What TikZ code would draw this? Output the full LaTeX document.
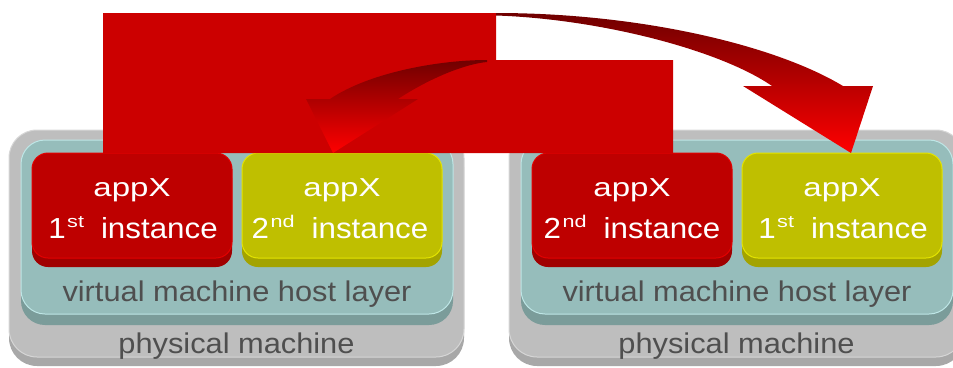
\documentclass[tikz,border=0pt]{standalone}
\usepackage{fontspec}
\newfontfamily\appfont[FakeStretch=1.27]{Liberation Sans}
\newfontfamily\layfont[FakeStretch=1.08]{Liberation Sans}
\definecolor{blockred}{HTML}{CC0000}
\definecolor{arrdark}{HTML}{700000}
\definecolor{arrbright}{HTML}{FF0000}
\definecolor{greyface}{HTML}{BEBEBE}
\definecolor{greyside}{HTML}{A8A8A8}
\definecolor{greyhi}{HTML}{D6D6D6}
\definecolor{tealface}{HTML}{96BDBB}
\definecolor{tealside}{HTML}{7B9C9A}
\definecolor{tealhi}{HTML}{BEE6E6}
\definecolor{redface}{HTML}{BE0000}
\definecolor{redside}{HTML}{A00000}
\definecolor{redhi}{HTML}{E40000}
\definecolor{yelface}{HTML}{BFBF00}
\definecolor{yelside}{HTML}{A3A300}
\definecolor{yelhi}{HTML}{E4E400}
\definecolor{txtgrey}{HTML}{4F4F4F}
% ordinal line: digit, suffix
\newcommand\ordline[2]{#1\hspace{1.5pt}\raisebox{11pt}{\appfont\fontsize{17}{17}\selectfont #2}\hspace{17pt}instance}
% name, cx, cy, width, height, radius, colour prefix, depth
\newcommand\slab[8]{%
  \node[slabshape, minimum width=#4, minimum height=#5, rounded corners=#6, fill=#7side] (#1s) at (#2,{#3+#8}) {};
  \node[slabshape, minimum width=#4, minimum height=#5, rounded corners=#6, fill=#7face, draw=#7hi] (#1) at (#2,#3) {};
}
\begin{document}
\begin{tikzpicture}[x=1pt,y=-1pt,
  slabshape/.style={rectangle, inner sep=0pt, line width=1pt},
  apptext/.style={text=white, font=\appfont\fontsize{26}{30}\selectfont, inner sep=0pt, anchor=base},
  ordtext/.style={text=white, font=\layfont\fontsize{29}{32}\selectfont, inner sep=0pt, anchor=base},
  laytext/.style={text=txtgrey, font=\layfont\fontsize{28.5}{32}\selectfont, inner sep=0pt, anchor=base},
  bigarrow/.style={top color=arrdark, bottom color=arrbright}]
\useasboundingbox (0,0) rectangle (953,367);
% left machine
\slab{pm1}{236.5}{243.5}{455pt}{227pt}{28pt}{grey}{9}
\slab{vm1}{237}{227}{432pt}{174pt}{24pt}{teal}{11}
\slab{a1}{132}{205.5}{200pt}{105pt}{16pt}{red}{9}
\slab{b1}{342}{205.5}{200pt}{105pt}{16pt}{yel}{9}
% right machine
\slab{pm2}{736.5}{243.5}{455pt}{227pt}{28pt}{grey}{9}
\slab{vm2}{737}{227}{432pt}{174pt}{24pt}{teal}{11}
\slab{a2}{632}{205.5}{200pt}{105pt}{16pt}{red}{9}
\slab{b2}{842}{205.5}{200pt}{105pt}{16pt}{yel}{9}
% texts
\node[apptext] (a1t) at (132,196) {appX};
\node[ordtext] (a1u) at (133,238.3) {\ordline{1}{st}};
\node[apptext] (b1t) at (342,196) {appX};
\node[ordtext] (b1u) at (340,238.3) {\ordline{2}{nd}};
\node[apptext] (a2t) at (632,196) {appX};
\node[ordtext] (a2u) at (632,238.3) {\ordline{2}{nd}};
\node[apptext] (b2t) at (842,196) {appX};
\node[ordtext] (b2u) at (843,238.3) {\ordline{1}{st}};
\node[laytext] (vm1t) at (237,301) {virtual machine host layer};
\node[laytext] (vm2t) at (737,301) {virtual machine host layer};
\node[laytext] (pm1t) at (236.5,353) {physical machine};
\node[laytext] (pm2t) at (736.5,353) {physical machine};
% red block
\fill[blockred] (103,13) -- (496,13) -- (496,60) -- (673,60) -- (673,153) -- (103,153) -- cycle;
% arrow to the right machine
\shade[bigarrow] (496,13) .. controls (640,13) and (775,45) .. (843,86)
  -- (873,86) -- (851,153) -- (743,86) -- (772,86)
  .. controls (720,50) and (600,19) .. (496,15.5) -- cycle;
% arrow back to the left machine
\shade[bigarrow] (487,60) .. controls (440,60) and (370,72) .. (330,99)
  -- (306,99) -- (333,153) -- (418,99) -- (398,99)
  .. controls (430,78) and (465,64) .. (487,62) -- cycle;
\end{tikzpicture}
\end{document}
